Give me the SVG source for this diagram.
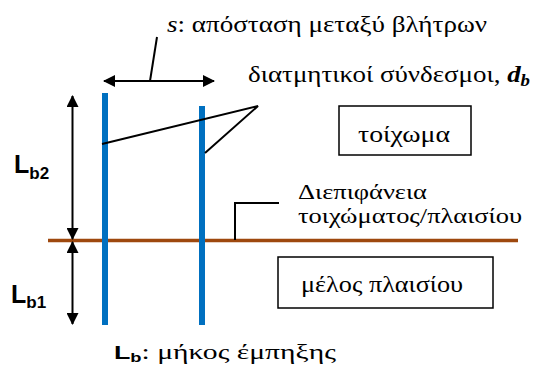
<svg xmlns="http://www.w3.org/2000/svg" width="534" height="378" viewBox="0 0 534 378">
<style>
text.g{font-family:'Liberation Serif','Times New Roman',serif;font-size:23px;fill:#000}
.a{font-family:'Liberation Sans',Arial,sans-serif;font-weight:bold;fill:#000}
.ln{stroke:#000;stroke-width:2;fill:none}
.bar{stroke:#0070C0;stroke-width:6}
.box{fill:#fff;stroke:#000;stroke-width:1.5}
</style>
<defs>
<marker id="ah" viewBox="0 0 12 12" refX="11" refY="6" markerWidth="12" markerHeight="12" markerUnits="userSpaceOnUse" orient="auto-start-reverse">
<path d="M0,0 L12,6 L0,12 Z" fill="#000"/>
</marker>
</defs>
<rect width="534" height="378" fill="#fff"/>
<g id="interface">
<line x1="48" y1="240.5" x2="518" y2="240.5" stroke="#9E480E" stroke-width="3.5"/>
</g>
<g id="connector-left"><line class="bar" x1="105" y1="93" x2="105" y2="325"/></g>
<g id="connector-right"><line class="bar" x1="202" y1="106" x2="202" y2="325"/></g>
<g id="connectors">
<line class="ln" x1="104" y1="81" x2="214" y2="81" marker-start="url(#ah)" marker-end="url(#ah)"/>
<line class="ln" x1="150" y1="81" x2="157" y2="37"/>
<line class="ln" x1="72.5" y1="96" x2="72.5" y2="239" marker-start="url(#ah)" marker-end="url(#ah)"/>
<line class="ln" x1="72.5" y1="242" x2="72.5" y2="324" marker-start="url(#ah)" marker-end="url(#ah)"/>
<polyline class="ln" points="102,144 258,106 205,153"/>
<polyline class="ln" points="235,240 235,203 279,203"/>
</g>
<g id="label-s"><text class="g" x="167" y="32" textLength="320" lengthAdjust="spacingAndGlyphs"><tspan font-style="italic">s</tspan>: απόσταση μεταξύ βλήτρων</text></g>
<g id="label-db"><text class="g" x="248" y="82" textLength="282" lengthAdjust="spacingAndGlyphs">διατμητικοί σύνδεσμοι, <tspan font-weight="bold" font-style="italic">d</tspan><tspan font-weight="bold" font-style="italic" font-size="16" dy="4">b</tspan></text></g>
<g id="label-lb2"><text class="a" x="14" y="173" font-size="25">L<tspan font-size="17" dy="6">b2</tspan></text></g>
<g id="label-lb1"><text class="a" x="11" y="303" font-size="25">L<tspan font-size="17" dy="5">b1</tspan></text></g>
<g id="wall"><rect class="box" x="339" y="106" width="132" height="49"/><text class="g" x="358" y="142" textLength="92" lengthAdjust="spacingAndGlyphs">τοίχωμα</text></g>
<g id="interface-label"><text class="g" x="298" y="199" font-size="21" style="font-size:21px" textLength="129" lengthAdjust="spacingAndGlyphs">Διεπιφάνεια</text><text class="g" x="298" y="223" font-size="21" style="font-size:21px" textLength="224" lengthAdjust="spacingAndGlyphs">τοιχώματος/πλαισίου</text></g>
<g id="frame"><rect class="box" x="278" y="257" width="215" height="51"/><text class="g" x="301" y="292" textLength="162" lengthAdjust="spacingAndGlyphs">μέλος πλαισίου</text></g>
<g id="label-lb"><text class="g" x="114" y="359" style="font-size:21px" textLength="222" lengthAdjust="spacingAndGlyphs"><tspan class="a" font-size="19">L</tspan><tspan class="a" font-size="13" dy="3">b</tspan><tspan dy="-3">: μήκος έμπηξης</tspan></text></g>
</svg>
